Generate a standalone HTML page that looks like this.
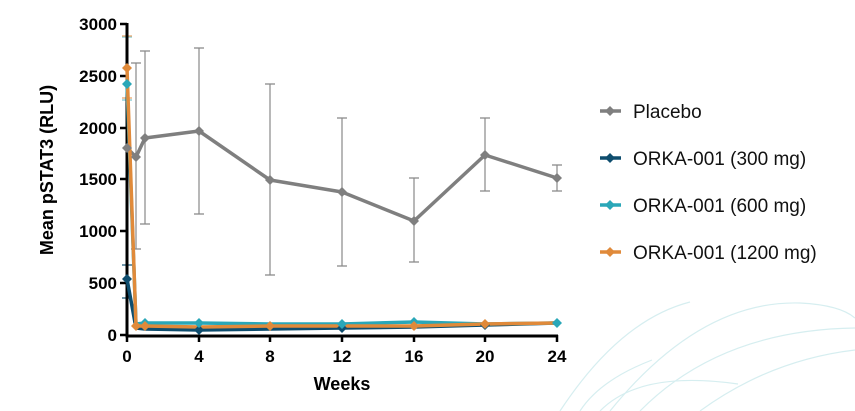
<!DOCTYPE html>
<html><head><style>body{margin:0;background:#fff}svg{display:block}</style></head><body>
<svg width="855" height="411" viewBox="0 0 855 411" xmlns="http://www.w3.org/2000/svg" font-family="Liberation Sans, sans-serif">
<g fill="none" stroke="#d6eef0" stroke-width="1.2">
<path d="M560 411 Q620 320 690 302"/>
<path d="M610 411 Q700 300 800 303 Q840 305 855 318"/>
<path d="M640 411 Q720 330 855 328"/>
<path d="M700 411 Q770 360 855 350"/>
<path d="M580 411 Q600 380 652 360"/>
<path d="M600 411 Q640 370 738 384"/>
</g>
<g stroke="#888" stroke-width="1.2">
<path d="M136 249V63M131 249h10M131 63h10"/>
<path d="M145 224V51M140 224h10M140 51h10"/>
<path d="M199 214V48M194 214h10M194 48h10"/>
<path d="M270 275V84M265 275h10M265 84h10"/>
<path d="M342 266V118M337 266h10M337 118h10"/>
<path d="M414 262V178M409 262h10M409 178h10"/>
<path d="M485 191V118M480 191h10M480 118h10"/>
<path d="M557 191V165M552 191h10M552 165h10"/>
<path d="M127 298V265M122 298h10M122 265h10" stroke="#1a5a7a"/>
<path d="M127 100V37M122 100h10M122 37h10" stroke="#7cc8d0"/>
<path d="M127 98V36M122 98h10M122 36h10" stroke="#e8a56a"/>
</g>
<g stroke="#000" stroke-width="3" fill="none">
<path d="M127 23V336H558"/>
</g>
<g stroke="#000" stroke-width="2.5">
<path d="M120 24h7M120 76h7M120 128h7M120 179h7M120 231h7M120 283h7M120 335h7"/>
<path d="M127 335v7M199 335v7M270 335v7M342 335v7M414 335v7M485 335v7M557 335v7"/>
</g>
<g font-size="17" font-weight="bold" text-anchor="end" fill="#000">
<text x="117" y="30">3000</text><text x="117" y="82">2500</text><text x="117" y="134">2000</text>
<text x="117" y="185">1500</text><text x="117" y="237">1000</text><text x="117" y="289">500</text><text x="117" y="341">0</text>
</g>
<g font-size="17" font-weight="bold" text-anchor="middle">
<text x="127" y="362">0</text><text x="199" y="362">4</text><text x="270" y="362">8</text><text x="342" y="362">12</text>
<text x="414" y="362">16</text><text x="485" y="362">20</text><text x="557" y="362">24</text>
<text x="342" y="390" font-size="18">Weeks</text>
<text transform="translate(53 170) rotate(-90)" font-size="18">Mean pSTAT3 (RLU)</text>
</g>
<g fill="none" stroke-width="3.5" stroke-linejoin="round">
<polyline stroke="#7f7f7f" points="127,148 136,157 145,138 199,131 270,180 342,192 414,221 485,155 557,178"/>
<polyline stroke="#0e4d6e" points="127,279 136,328 145,329 199,330 270,329 342,328 414,327 485,325 557,323"/>
<polyline stroke="#2aa7b8" points="127,84 136,324 145,323 199,323 270,324 342,324 414,322 485,324 557,323"/>
<polyline stroke="#e08a3a" points="127,68 136,326 145,326 199,327 270,326 342,326 414,326 485,324 557,323"/>
</g>
<g fill="#7f7f7f"><path d="M127 143l5 5-5 5-5-5z"/><path d="M136 152l5 5-5 5-5-5z"/><path d="M145 133l5 5-5 5-5-5z"/><path d="M199 126l5 5-5 5-5-5z"/><path d="M270 175l5 5-5 5-5-5z"/><path d="M342 187l5 5-5 5-5-5z"/><path d="M414 216l5 5-5 5-5-5z"/><path d="M485 150l5 5-5 5-5-5z"/><path d="M557 173l5 5-5 5-5-5z"/></g>
<g fill="#0e4d6e"><path d="M127 274l5 5-5 5-5-5z"/><path d="M199 325l5 5-5 5-5-5z"/><path d="M342 323l5 5-5 5-5-5z"/><path d="M485 320l5 5-5 5-5-5z"/></g>
<g fill="#2aa7b8"><path d="M127 79l5 5-5 5-5-5z"/><path d="M145 318l5 5-5 5-5-5z"/><path d="M199 318l5 5-5 5-5-5z"/><path d="M342 319l5 5-5 5-5-5z"/><path d="M414 317l5 5-5 5-5-5z"/><path d="M557 318l5 5-5 5-5-5z"/></g>
<g fill="#e08a3a"><path d="M127 63l5 5-5 5-5-5z"/><path d="M136 321l5 5-5 5-5-5z"/><path d="M145 321l5 5-5 5-5-5z"/><path d="M270 321l5 5-5 5-5-5z"/><path d="M414 321l5 5-5 5-5-5z"/><path d="M485 319l5 5-5 5-5-5z"/></g>
<g stroke-width="3.5">
<line x1="600" y1="111" x2="621" y2="111" stroke="#7f7f7f"/>
<line x1="600" y1="158" x2="621" y2="158" stroke="#0e4d6e"/>
<line x1="600" y1="205" x2="621" y2="205" stroke="#2aa7b8"/>
<line x1="600" y1="252" x2="621" y2="252" stroke="#e08a3a"/>
</g>
<path d="M610 106l5 5-5 5-5-5z" fill="#7f7f7f"/>
<path d="M610 153l5 5-5 5-5-5z" fill="#0e4d6e"/>
<path d="M610 200l5 5-5 5-5-5z" fill="#2aa7b8"/>
<path d="M610 247l5 5-5 5-5-5z" fill="#e08a3a"/>
<g font-size="19" fill="#111">
<text x="633" y="118">Placebo</text>
<text x="633" y="165">ORKA-001 (300 mg)</text>
<text x="633" y="212">ORKA-001 (600 mg)</text>
<text x="633" y="259">ORKA-001 (1200 mg)</text>
</g>
</svg>
</body></html>
